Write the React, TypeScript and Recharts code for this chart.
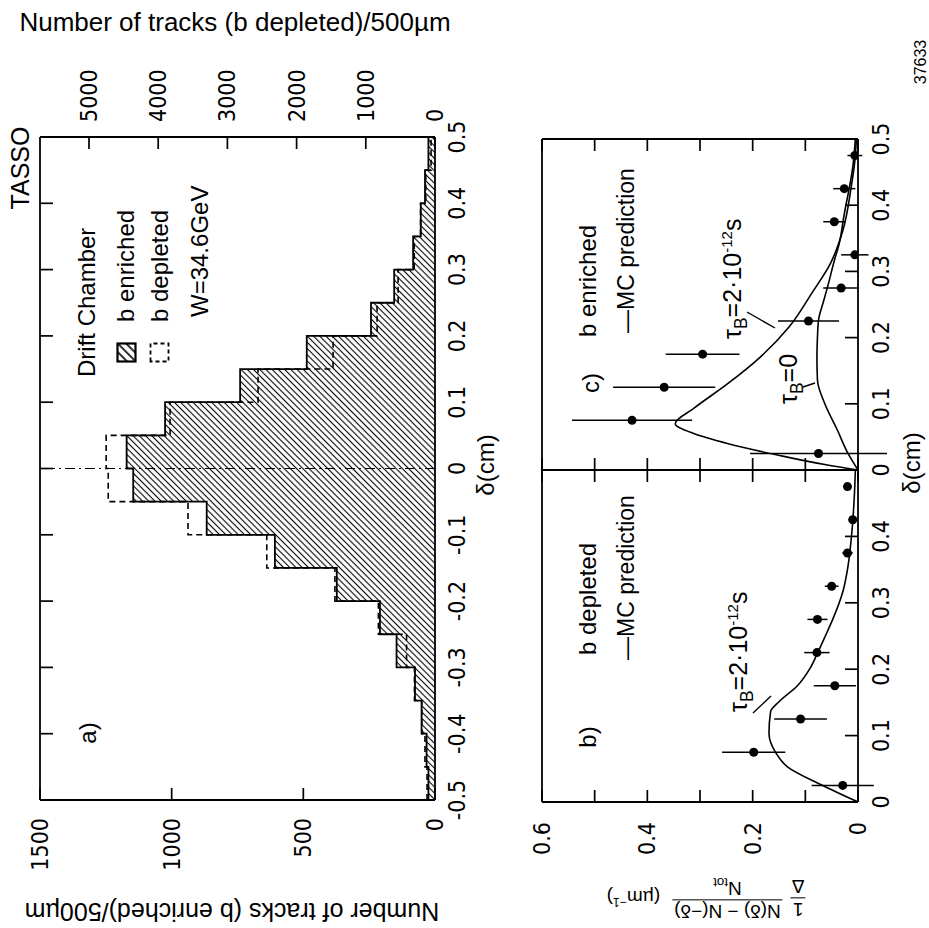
import React from 'react';
import { ComposedChart, Area, Line, Scatter, ErrorBar, XAxis, YAxis, ReferenceLine } from 'recharts';

// ---- panel a: impact parameter histograms (bins of 500 µm) ----
const binStart = [-0.5, -0.45, -0.4, -0.35, -0.3, -0.25, -0.2, -0.15, -0.1, -0.05, 0, 0.05, 0.1, 0.15, 0.2, 0.25, 0.3, 0.35, 0.4, 0.45];
const binEnd = 0.5;
const enriched = [25, 32, 51, 76, 146, 209, 373, 608, 867, 1146, 1171, 1025, 740, 487, 243, 155, 83, 54, 38, 25];
const depleted = [115, 145, 190, 297, 411, 818, 1446, 2431, 3569, 4722, 4752, 3828, 2557, 1473, 837, 533, 300, 209, 133, 57];
const deltaTicksA = [-0.5, -0.4, -0.3, -0.2, -0.1, 0, 0.1, 0.2, 0.3, 0.4, 0.5];
const innerTicksA = [-0.4, -0.3, -0.2, -0.1, 0, 0.1, 0.2, 0.3, 0.4];
const enrTicks = [0, 500, 1000, 1500];
const depTicks = [0, 1000, 2000, 3000, 4000, 5000];

// ---- panels b, c: asymmetry N(δ)-N(-δ) ----
const ptDelta = [0.025, 0.075, 0.125, 0.175, 0.225, 0.275, 0.325, 0.375, 0.425, 0.475];
const bValue = [0.029, 0.198, 0.109, 0.044, 0.078, 0.077, 0.05, 0.02, 0.01, 0.02];
const bErr = [0.059, 0.06, 0.05, 0.04, 0.024, 0.019, 0.013, 0.01, 0.008, 0.007];
const cValue = [0.075, 0.429, 0.368, 0.295, 0.094, 0.032, 0.006, 0.045, 0.026, 0.006];
const cErr = [0.13, 0.114, 0.097, 0.07, 0.058, 0.034, 0.026, 0.021, 0.021, 0.014];

const bMcDelta = [0, 0.026, 0.053, 0.074, 0.103, 0.136, 0.151, 0.175, 0.2, 0.224, 0.25, 0.275, 0.319, 0.35, 0.395, 0.46, 0.5];
const bMcValue = [0, 0.07, 0.134, 0.156, 0.169, 0.166, 0.15, 0.115, 0.092, 0.077, 0.062, 0.048, 0.028, 0.02, 0.013, 0.007, 0.005];
const cMcDelta = [0, 0.0075, 0.0226, 0.04, 0.055, 0.07, 0.093, 0.13, 0.171, 0.216, 0.268, 0.311, 0.361, 0.427, 0.467, 0.5];
const cMcValue = [0, 0.058, 0.153, 0.248, 0.312, 0.347, 0.312, 0.248, 0.185, 0.131, 0.087, 0.053, 0.029, 0.013, 0.006, 0.003];
const cZeroDelta = [0, 0.025, 0.06, 0.1, 0.136, 0.17, 0.2, 0.226, 0.256, 0.276, 0.316, 0.341, 0.387, 0.457, 0.5];
const cZeroValue = [0, 0.019, 0.039, 0.063, 0.077, 0.078, 0.077, 0.075, 0.065, 0.058, 0.045, 0.036, 0.026, 0.01, 0.005];

const lowerXTicks = [0, 0.1, 0.2, 0.3, 0.4, 0.5];
const lowerInnerTicks = [0.1, 0.2, 0.3, 0.4];
const lowerYTicks = [0, 0.1, 0.2, 0.3, 0.4, 0.5, 0.6];
const lowerYLabels = [0, 0.2, 0.4, 0.6];

const histData = [
  ...binStart.map((x, i) => ({ x, enr: enriched[i], dep: depleted[i] })),
  { x: binEnd, enr: enriched[enriched.length - 1], dep: depleted[depleted.length - 1] },
];
const zip = (d: number[], v: number[], e?: number[]) => d.map((x, i) => ({ d: x, v: v[i], e: e ? e[i] : 0 }));

const SANS = "'Liberation Sans', Arial, sans-serif";
const NARROW = "'Liberation Sans Narrow', 'DejaVu Sans Condensed', 'Liberation Sans', sans-serif";
const axisStyle = { stroke: '#000', strokeWidth: 1.8 };
const TICK = { stroke: '#000', strokeWidth: 1.7 };
const LABEL = { fill: '#000', fontSize: 23, fontFamily: NARROW };

// tick renderers: inward tick marks drawn by hand, labels outside the frame
type Fmt = ((v: number) => string) | null;
const str = (v: number) => String(v);
const leftTick = (len: number, gap: number, fmt: Fmt) => (p: any) => (
  <g>
    {len > 0 && <line x1={p.x} y1={p.y} x2={p.x + len} y2={p.y} {...TICK} />}
    {fmt && <text x={p.x - gap} y={p.y} textAnchor="end" dominantBaseline="central" {...LABEL}>{fmt(p.payload.value)}</text>}
  </g>
);
const rightTick = (len: number, gap: number, fmt: Fmt) => (p: any) => (
  <g>
    {len > 0 && <line x1={p.x} y1={p.y} x2={p.x - len} y2={p.y} {...TICK} />}
    {fmt && <text x={p.x + gap} y={p.y} textAnchor="start" dominantBaseline="central" {...LABEL}>{fmt(p.payload.value)}</text>}
  </g>
);
const bottomTick = (len: number, gap: number, fmt: Fmt) => (p: any) => (
  <g>
    {len > 0 && <line x1={p.x} y1={p.y} x2={p.x} y2={p.y - len} {...TICK} />}
    {fmt && <text x={p.x} y={p.y + gap} textAnchor="middle" dominantBaseline="hanging" {...LABEL}>{fmt(p.payload.value)}</text>}
  </g>
);
const topTick = (len: number) => (p: any) => (
  <g>
    <line x1={p.x} y1={p.y} x2={p.x} y2={p.y + len} {...TICK} />
  </g>
);

const bare = { tickSize: 0, tickMargin: 0, tickLine: false, interval: 0 as const, axisLine: axisStyle };

const HistogramPanel = () => (
  <ComposedChart width={928} height={500} data={histData} margin={{ top: 39, right: 77, bottom: 35, left: 68 }}>
    <defs>
      <pattern id="hatch" patternUnits="userSpaceOnUse" width={4.4} height={4.4} patternTransform="rotate(45)">
        <line x1={2.2} y1={0} x2={2.2} y2={4.4} stroke="#000" strokeWidth={1.1} />
      </pattern>
    </defs>
    <XAxis xAxisId="d" dataKey="x" type="number" domain={[-0.5, 0.5]} ticks={deltaTicksA} height={30}
      {...bare} tick={bottomTick(0, 13, str)} />
    <XAxis xAxisId="top" orientation="top" height={1} dataKey="x" type="number" domain={[-0.5, 0.5]}
      ticks={innerTicksA} {...bare} tick={topTick(13)} />
    <YAxis yAxisId="enr" domain={[0, 1500]} allowDataOverflow ticks={enrTicks} width={60}
      {...bare} tick={leftTick(12, 18, str)} />
    <YAxis yAxisId="dep" orientation="right" domain={[0, 5708]} allowDataOverflow ticks={depTicks} width={60}
      {...bare} tick={rightTick(12, 15, str)} />
    <Area xAxisId="d" yAxisId="enr" type="stepAfter" dataKey="enr" stroke="#000" strokeWidth={1.8}
      fill="url(#hatch)" fillOpacity={1} isAnimationActive={false} />
    <Line xAxisId="d" yAxisId="dep" type="stepAfter" dataKey="dep" stroke="#000" strokeWidth={1.6}
      strokeDasharray="6 4" dot={false} isAnimationActive={false} />
    <ReferenceLine xAxisId="d" yAxisId="enr" x={0} stroke="#000" strokeWidth={1} strokeDasharray="10 4 2 4" />
  </ComposedChart>
);

type PanelProps = {
  width: number;
  margin: { top: number; right: number; bottom: number; left: number };
  points: { d: number; v: number; e: number }[];
  curves: { d: number; v: number; e: number }[][];
  hideLastX: boolean;
  leftLabels: boolean;
};

const LowerPanel = ({ width, margin, points, curves, hideLastX, leftLabels }: PanelProps) => (
  <ComposedChart width={width} height={449} margin={margin}>
    <XAxis xAxisId="d" dataKey="d" type="number" domain={[0, 0.5]} ticks={lowerXTicks} height={30}
      {...bare} tick={bottomTick(13, 14, (v: number) => (hideLastX && v === 0.5 ? '' : String(v)))} />
    <XAxis xAxisId="top" orientation="top" height={1} dataKey="d" type="number" domain={[0, 0.5]}
      ticks={lowerInnerTicks} {...bare} tick={topTick(13)} />
    <YAxis yAxisId="v" domain={[0, 0.6]} allowDataOverflow ticks={lowerYTicks}
      width={leftLabels ? 60 : 1} {...bare}
      tick={leftTick(12, 20, leftLabels ? (v: number) => (lowerYLabels.includes(v) ? String(v) : '') : null)} />
    <YAxis yAxisId="r" orientation="right" width={1} domain={[0, 0.6]} allowDataOverflow ticks={lowerYTicks}
      {...bare} tick={rightTick(12, 0, null)} />
    {curves.map((c, i) => (
      <Line key={i} data={c} xAxisId="d" yAxisId="v" dataKey="v" type="monotone" dot={false}
        stroke="#000" strokeWidth={1.6} isAnimationActive={false} />
    ))}
    <Scatter data={points} xAxisId="d" yAxisId="v" dataKey="v" fill="#000" isAnimationActive={false}>
      <ErrorBar dataKey="e" direction="y" width={0} stroke="#000" strokeWidth={1.5} />
    </Scatter>
  </ComposedChart>
);

type TP = { x: number; y: number; size?: number; rot?: number; mid?: boolean; family?: string; children: React.ReactNode };
const Txt = ({ x, y, size = 24, rot = 0, mid = false, family = SANS, children }: TP) => (
  <div
    style={{
      position: 'absolute', left: x, top: y, fontFamily: family, fontSize: size, lineHeight: 1,
      whiteSpace: 'nowrap', color: '#000',
      transform: `translate(${mid ? '-50%' : '0'}, -50%) rotate(${rot}deg)`,
      transformOrigin: mid ? '50% 50%' : '0 50%',
    }}
  >
    {children}
  </div>
);

const Tau = ({ value }: { value: React.ReactNode }) => (
  <span>
    τ<sub style={{ fontSize: '0.7em' }}>B</sub>={value}
  </span>
);

const Frac = ({ top, bottom }: { top: React.ReactNode; bottom: React.ReactNode }) => (
  <span style={{ display: 'inline-flex', flexDirection: 'column', alignItems: 'center', margin: '0 4px' }}>
    <span style={{ borderBottom: '1.5px solid #000', padding: '0 2px 1px', lineHeight: 1.05 }}>{top}</span>
    <span style={{ paddingTop: 1, lineHeight: 1.05 }}>{bottom}</span>
  </span>
);

const LegendBox = ({ x, y, hatched }: { x: number; y: number; hatched: boolean }) => (
  <svg style={{ position: 'absolute', left: x, top: y }} width={21} height={21}>
    <defs>
      <pattern id="hatchLegend" patternUnits="userSpaceOnUse" width={6} height={6} patternTransform="rotate(45)">
        <line x1={3} y1={0} x2={3} y2={6} stroke="#000" strokeWidth={1.6} />
      </pattern>
    </defs>
    <rect x={1.5} y={1.5} width={18} height={18} fill={hatched ? 'url(#hatchLegend)' : 'none'}
      stroke="#000" strokeWidth={hatched ? 2.2 : 1.8} strokeDasharray={hatched ? undefined : '4 3'} />
  </svg>
);

const tauValue = <>2·10<sup style={{ fontSize: '0.6em' }}>-12</sup>s</>;

export default function App() {
  return (
    <div style={{ position: 'absolute', left: 0, top: 0, width: 929, height: 928, overflow: 'hidden', background: '#fff' }}>
      <div style={{ position: 'absolute', left: 0, top: 0, width: 928, height: 929, transformOrigin: '0 0', transform: 'translateY(928px) rotate(-90deg)' }}>
        <div style={{ position: 'absolute', left: 0, top: 0 }}>
          <HistogramPanel />
        </div>
        <div style={{ position: 'absolute', left: 0, top: 480 }}>
          <LowerPanel width={459} margin={{ top: 61, right: 0, bottom: 41, left: 66 }}
            points={zip(ptDelta, bValue, bErr)} curves={[zip(bMcDelta, bMcValue)]} hideLastX leftLabels />
        </div>
        <div style={{ position: 'absolute', left: 428, top: 480 }}>
          <LowerPanel width={500} margin={{ top: 61, right: 138, bottom: 41, left: 29 }}
            points={zip(ptDelta, cValue, cErr)} curves={[zip(cMcDelta, cMcValue), zip(cZeroDelta, cZeroValue)]}
            hideLastX={false} leftLabels={false} />
        </div>

        {/* panel a annotations */}
        <Txt x={760} y={20} size={25} mid>TASSO</Txt>
        <Txt x={551} y={87}>Drift Chamber</Txt>
        <LegendBox x={565} y={116} hatched />
        <Txt x={606} y={126}>b enriched</Txt>
        <LegendBox x={565} y={149} hatched={false} />
        <Txt x={606} y={160}>b depleted</Txt>
        <Txt x={611} y={200}>W=34.6GeV</Txt>
        <Txt x={195} y={88} mid>a)</Txt>
        <Txt x={463} y={486} mid>δ(cm)</Txt>
        <Txt x={17} y={232} size={25} rot={-90} mid>Number of tracks (b enriched)/500µm</Txt>
        <Txt x={906} y={235} size={26} rot={90} mid>Number of tracks (b depleted)/500µm</Txt>
        <Txt x={866} y={921} size={16} mid>37633</Txt>

        {/* panels b, c annotations */}
        <Txt x={191} y={588} mid>b)</Txt>
        <Txt x={273} y={588}>b depleted</Txt>
        <Txt x={268} y={626} size={23}>—MC prediction</Txt>
        <Txt x={216} y={741} size={25}><Tau value={tauValue} /></Txt>
        <Txt x={545} y={591} mid>c)</Txt>
        <Txt x={591} y={588}>b enriched</Txt>
        <Txt x={595} y={626} size={23}>—MC prediction</Txt>
        <Txt x={589} y={735} size={25}><Tau value={tauValue} /></Txt>
        <Txt x={524} y={791} size={25}><Tau value="0" /></Txt>
        <Txt x={465} y={912} mid>δ(cm)</Txt>
        <Txt x={30} y={708} size={19} rot={-90} mid>
          <span style={{ display: 'inline-flex', alignItems: 'center' }}>
            <Frac top="1" bottom="Δ" />
            <Frac top="N(δ) − N(−δ)" bottom={<>N<sub style={{ fontSize: '0.7em' }}>tot</sub></>} />
            <span style={{ marginLeft: 8 }}>(µm<sup style={{ fontSize: '0.65em' }}>−1</sup>)</span>
          </span>
        </Txt>

        <svg style={{ position: 'absolute', left: 0, top: 0, pointerEvents: 'none' }} width={928} height={929}>
          <line x1={215} y1={753} x2={232} y2={771} stroke="#000" strokeWidth={1.4} />
          <line x1={616} y1={747} x2={600} y2={775} stroke="#000" strokeWidth={1.4} />
          <line x1={541} y1={803} x2={545} y2={815} stroke="#000" strokeWidth={1.4} />
        </svg>
      </div>
    </div>
  );
}
